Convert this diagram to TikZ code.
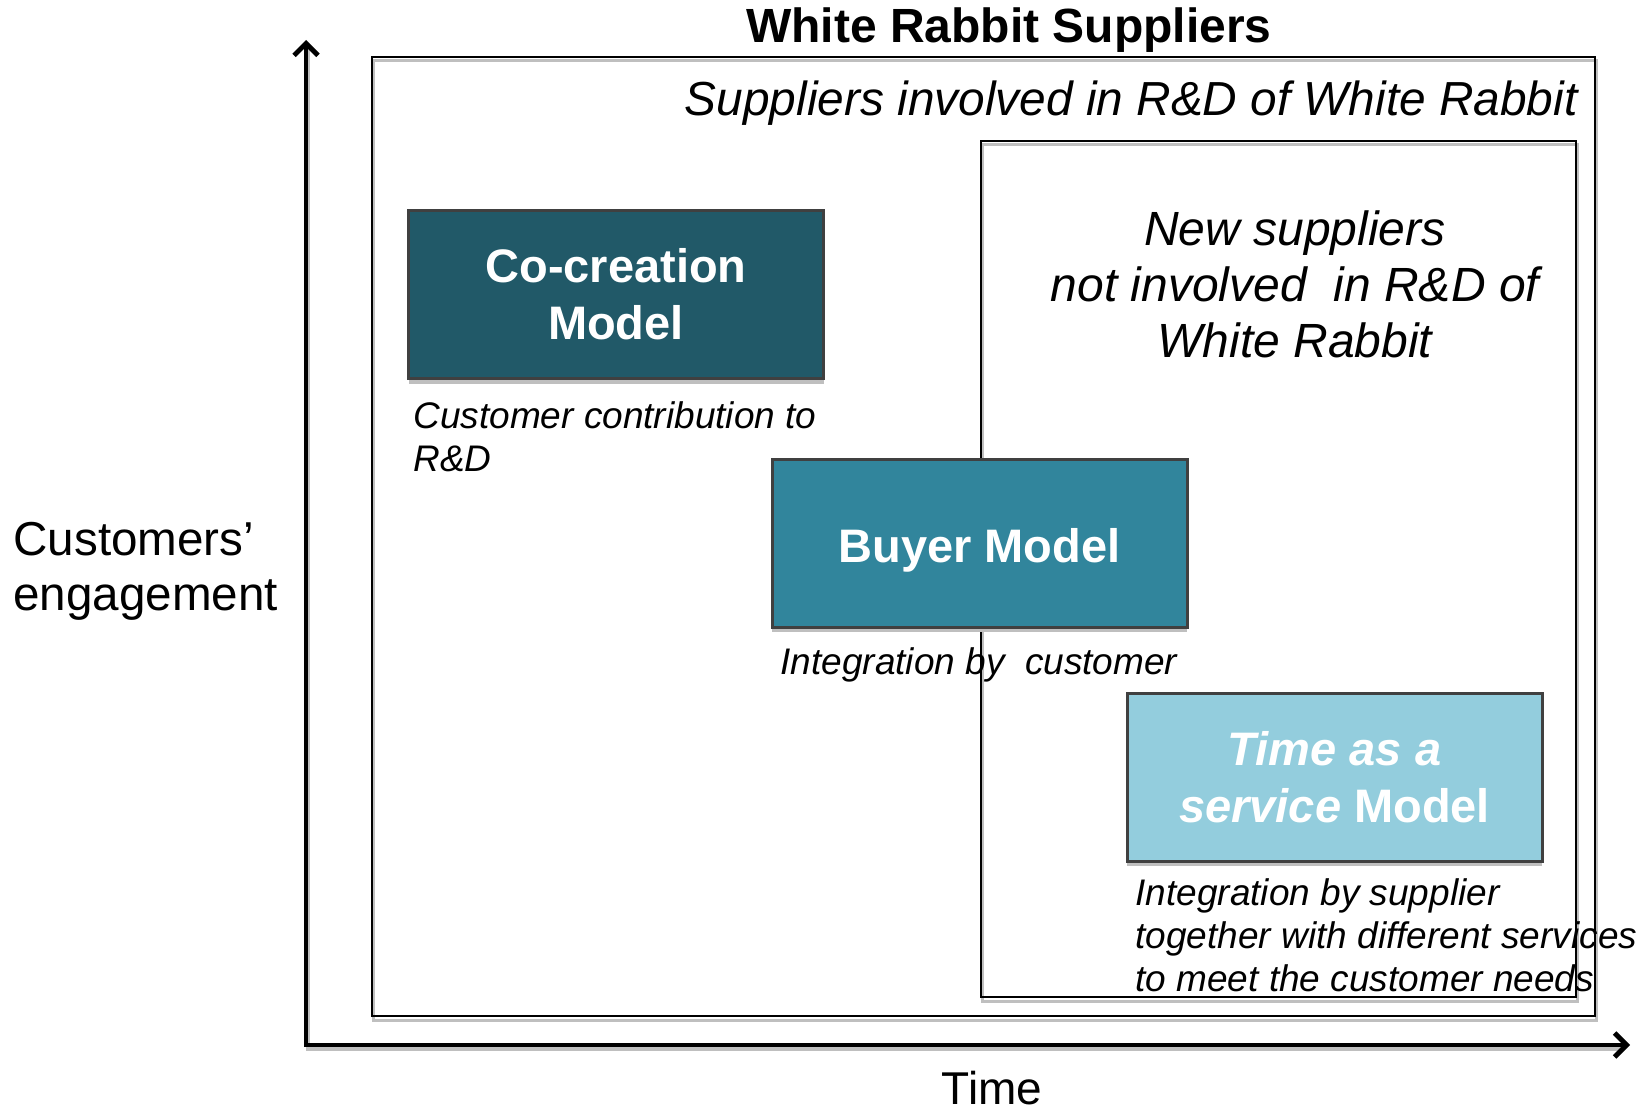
\documentclass[tikz,border=0pt]{standalone}
\usepackage{fontspec}
\setmainfont{Liberation Sans}
\usetikzlibrary{arrows.meta,shadows}
\definecolor{cocolor}{HTML}{215968}
\definecolor{buycolor}{HTML}{31859C}
\definecolor{timecolor}{HTML}{93CDDD}
\definecolor{boxline}{HTML}{404040}
\definecolor{shadowgray}{HTML}{BFBFBF}
\begin{document}
\begin{tikzpicture}[x=0.5pt,y=-0.5pt,
  modelbox/.style={draw=boxline, line width=1.5pt, text=white, align=center, inner sep=0pt,
    minimum width=207.5pt, minimum height=84pt,
    font=\fontsize{23.5}{28.5}\selectfont\bfseries,
    drop shadow={shadow xshift=0pt, shadow yshift=-2.5pt, fill=shadowgray, opacity=1}},
  captiontext/.style={anchor=north west, inner sep=0pt, align=left, font=\fontsize{18.5}{21.5}\selectfont\itshape},
  frame/.style={draw=black, line width=1.2pt},
  frameshadow/.style={draw=shadowgray, line width=1.5pt},
  axis/.style={draw=black, line width=2.4pt, line join=miter, {Straight Barb[length=6pt,width=12pt]}-{Straight Barb[length=6pt,width=12pt]}},
  axisshadow/.style={draw=shadowgray, line width=2.4pt}
  ]
\useasboundingbox (0,0) rectangle (1651,1113);

% axes
\coordinate (ytip) at (306,40);
\coordinate (origin) at (306,1045);
\coordinate (xtip) at (1630,1045);
\draw[axisshadow] ([shift={(2,4)}]ytip) -- ([shift={(2,4)}]origin) -- ([shift={(-8,4)}]xtip);
\draw[axis] (ytip) -- (origin) -- (xtip);

% frames
\coordinate (outerNW) at (372,57);
\coordinate (outerSE) at (1595,1016);
\coordinate (innerNW) at (981,141);
\coordinate (innerSE) at (1576,997);
\draw[frameshadow] ([shift={(1,4)}]outerNW) rectangle ([shift={(1,4)}]outerSE);
\draw[frame] (outerNW) rectangle (outerSE);
\draw[frameshadow] ([shift={(1,4)}]innerNW) rectangle ([shift={(1,4)}]innerSE);
\draw[frame] (innerNW) rectangle (innerSE);

% titles
\node[anchor=base, inner sep=0pt, font=\fontsize{24}{28}\selectfont\bfseries] (title) at (1009,43) {White Rabbit Suppliers};
\node[anchor=base east, inner sep=0pt, font=\fontsize{23.9}{28}\selectfont\itshape] (involved) at (1578,116) {Suppliers involved in R\&D of White Rabbit};
\node[anchor=north, inner sep=0pt, align=center, font=\fontsize{24}{28}\selectfont\itshape] (newsup) at (1295,210) {New suppliers\\not involved\ \ in R\&D of\\White Rabbit};

% model boxes
\node[modelbox, fill=cocolor] (cocreation) at (616,294.5) {Co-creation\\Model};
\node[modelbox, fill=buycolor, text depth=0pt] (buyer) at (979.5,543) {\raisebox{-2pt}{Buyer Model}};
\node[modelbox, fill=timecolor] (timeserv) at (1334.6,777) {\textit{Time as a}\\\textit{service} Model};

% captions
\node[captiontext] (capco) at (413,401) {Customer contribution to\\R\&D};
\node[captiontext] (capbuy) at (780,647) {Integration by\ \ customer};
\node[captiontext] (captime) at (1135,878) {Integration by supplier\\together with different services\\to meet the customer needs};

% axis labels
\node[anchor=north west, inner sep=0pt, align=left, font=\fontsize{23.8}{27.5}\selectfont] (ylabel) at (13,522) {Customers’\\engagement};
\node[anchor=base, inner sep=0pt, font=\fontsize{23}{27}\selectfont] (xlabel) at (992,1104) {Time};
\end{tikzpicture}
\end{document}
